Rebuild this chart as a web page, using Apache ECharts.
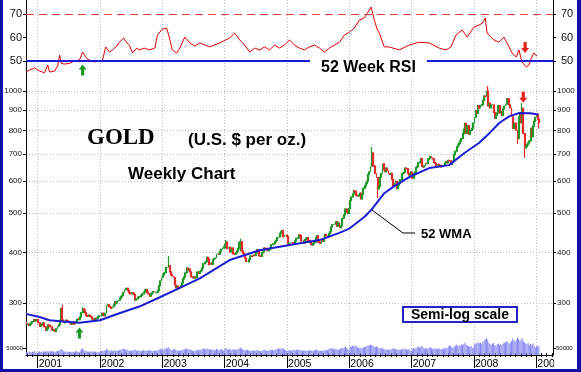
<!DOCTYPE html>
<html><head><meta charset="utf-8">
<script src="https://cdn.jsdelivr.net/npm/echarts@6/dist/echarts.min.js"></script>
<style>html,body{margin:0;padding:0;background:#fff}#c{width:581px;height:372px}</style>
</head><body><div id="c"></div>
<script>
// ---------- DATA ----------
const firstWeek = '2000-10-27';
const openFirst = 270;
const close2000 = [265,266,264,266,268,270,273,271,272,273];
const close2001 = [268,263,266,265, 268,262,257,259, 265,264,262,257,258, 257,255,259,263, 265,272,291,273, 268,270,272,271,270, 267,266,269,267, 266,270,273,274,273, 277,284,290,288, 284,280,278,280, 278,277,274,273,275, 274,275,278,279];
const close2002 = [279,283,282,279, 283,296,297,294, 293,291,294,297,302, 300,303,305,308, 311,313,318,324,326, 326,322,318,316, 318,317,315,305, 307,310,311,311,313, 316,319,323,324, 319,316,312,316, 318,320,320,318,319, 322,331,340,347];
const close2003 = [352,356,357,367,368, 371,358,352,350, 347,332,327,330, 325,328,331,336, 344,348,356,366,362, 364,358,348,346, 348,346,347,358, 355,359,361,366,375, 378,380,389,385, 373,377,374,384,386, 387,397,397,396, 403,407,410,413];
const close2004 = [418,424,409,412,401, 405,410,397,396, 399,403,409,423, 425,403,398,394,387, 380,379,384,392, 392,391,395,393, 399,406,402,392,391, 399,401,410,409, 405,404,406,410, 418,420,420,425,428, 435,437,446,450, 453,437,441,441,438];
const close2005 = [420,422,423,423, 421,420,427,433, 435,442,440,427, 427,422,430,433,435, 428,423,419,417, 420,424,435,440, 425,424,421,428,426, 433,443,440,437, 445,450,462,468,470, 470,476,464,474, 460,465,485,486, 495,512,502,499,513];
const close2006 = [537,548,558,568, 565,553,551,555, 560,542,556,576,584, 592,600,623,632, 653,704,656,653, 627,612,574,582,613, 626,662,640,633, 646,637,625,623, 627,606,583,594,599, 575,586,592,605, 626,628,631,646, 644,627,621,624,632];
const close2007 = [610,626,631,648, 652,666,669,682, 653,650,654,664,663, 680,681,691,683, 681,667,664,656, 660,653,656,650,650, 657,665,670,666, 675,673,660,667,672, 698,711,729,737, 744,753,764,787, 807,833,788,823,783, 799,801,810,834];
const close2008 = [863,895,883,922, 908,923,927,949,973, 970,1001,920,934, 910,925,925,886, 857,872,883,921,884, 890,871,904,918, 929,959,957,925, 910,864,809,829,834, 802,764,865,884, 836,907,786,725,730, 738,745,754,810, 773,820,843,862];
const close2009 = [878,853,837];

// notable weekly extremes (wicks)
const extWeek = ['2001-05-25','2001-09-21','2003-02-07','2004-01-09','2004-04-02','2006-05-12','2006-06-16','2008-03-21','2008-09-12','2008-10-10','2008-10-24','2009-01-16'];
const extLow  = [270,284,368,409,402,656,545,920,742,836,685,808];
const extHigh = [297,293,392,430,432,728,575,1030,802,935,787,853];

const vol2000 = [24,20,27,22,18,25,21,28,17,15];
const vol2001 = [22,26,21,24, 25,28,22,27, 30,23,26,29,24, 26,21,25,28, 30,34,45,38, 27,24,26,22,25, 21,24,20,23, 22,26,28,24,21, 30,42,48,36, 31,27,25,24, 26,23,22,27,24, 25,21,20,18];
const vol2002 = [28,31,26,33, 30,44,38,32, 29,34,27,31,36, 30,28,33,35, 38,41,47,43,36, 39,33,30,28, 34,29,40,37, 31,28,33,30,27, 35,32,29,31, 33,30,36,32, 30,27,33,29,31, 34,40,45,38];
const vol2003 = [42,39,47,52,45, 55,43,38,36, 40,46,35,33, 31,34,29,37, 38,41,44,48,39, 42,36,33,30, 31,28,34,37, 33,35,38,42,44, 46,40,48,39, 43,37,35,41,38, 36,44,39,33, 40,42,37,30];
const vol2004 = [45,50,41,38,44, 36,39,42,35, 37,40,43,47, 49,52,40,38,36, 34,37,33,31, 29,32,30,28, 33,36,31,29,27, 30,34,37,32, 29,31,35,33, 38,36,34,40,37, 42,45,48,44, 46,50,38,33,28];
const vol2005 = [33,36,30,31, 34,38,33,36, 40,37,35,32, 29,34,31,33,30, 28,32,35,31, 29,34,38,40, 33,30,28,31,29, 35,37,33,36, 41,44,50,47,43, 39,45,41,38, 40,46,52,48, 55,58,49,44,38];
const vol2006 = [60,58,64,70, 62,66,55,50, 48,52,46,54,57, 60,63,70,68, 75,72,66,60, 58,63,55,48,50, 52,46,44,40, 38,42,36,35, 40,45,48,42,39, 44,37,35,38, 42,46,41,45, 40,38,43,36,30];
const vol2007 = [45,52,44,50, 55,60,52,58, 66,54,48,45,50, 47,52,56,49, 46,42,48,45, 41,47,44,40,45, 43,49,53,47, 58,70,64,55,50, 60,68,74,64, 70,65,76,69, 80,88,75,68,62, 58,64,56,48];
const vol2008 = [75,86,80,92, 84,90,78,96,104, 112,120,108,88, 78,72,82,86, 70,66,76,82,72, 78,70,82,88, 90,98,92,80, 86,100,118,106,96, 108,125,116,100, 110,122,98,90,82, 76,86,70,78, 74,82,66,52];
const vol2009 = [60,68,62];

const wmaX = [2000.81,2001.03,2001.19,2001.40,2001.67,2002.00,2002.31,2002.63,2002.96,2003.28,2003.60,2004.08,2004.56,2005.04,2005.52,2005.84,2006.00,2006.24,2006.35,2006.56,2006.72,2006.96,2007.28,2007.60,2007.84,2008.08,2008.25,2008.41,2008.57,2008.73,2008.90,2009.03];
const wmaV = [282,277,272,270,268,272,283,294,310,327,345,383,405,417,429,447,458,489,509,560,583,614,646,657,703,745,789,836,868,884,882,876];

const rsiX = [2000.81,2000.87,2000.95,2001.03,2001.11,2001.16,2001.19,2001.27,2001.32,2001.35,2001.38,2001.43,2001.51,2001.59,2001.67,2001.72,2001.79,2001.83,2001.91,2001.99,2002.04,2002.09,2002.15,2002.20,2002.27,2002.31,2002.38,2002.43,2002.47,2002.52,2002.59,2002.63,2002.71,2002.79,2002.88,2002.92,2003.00,2003.07,2003.12,2003.16,2003.23,2003.28,2003.36,2003.44,2003.52,2003.60,2003.76,2003.92,2004.08,2004.16,2004.24,2004.32,2004.40,2004.48,2004.56,2004.64,2004.72,2004.80,2004.88,2004.96,2005.04,2005.12,2005.20,2005.28,2005.36,2005.44,2005.52,2005.60,2005.68,2005.76,2005.84,2005.92,2006.00,2006.08,2006.16,2006.24,2006.32,2006.35,2006.40,2006.45,2006.48,2006.56,2006.64,2006.80,2006.96,2007.12,2007.28,2007.44,2007.55,2007.63,2007.71,2007.81,2007.89,2008.00,2008.08,2008.13,2008.18,2008.21,2008.32,2008.40,2008.48,2008.53,2008.61,2008.68,2008.72,2008.77,2008.84,2008.88,2008.92,2008.96,2009.01];
const rsiV = [45.3,46.2,47,45.7,45,48.3,45.3,45.7,47.9,52.5,49,48.7,49,50,50.4,53.8,51,50.4,49.6,50,50.4,56,53.8,54.7,56.4,58,59.8,57.7,56.8,53.4,55.5,54.7,55.5,54.7,55.5,61,63.6,64,59,54.7,53.4,55.5,60.2,57.7,56.4,57.7,56,57.7,59.8,61.9,59,56.8,53.8,55.5,54.7,56,54.7,56.8,55.5,56.8,59,56.8,55.5,54.7,56,56.8,55.5,53.8,55.5,56.8,58,61,62.3,64,67.4,68.3,71.7,73,67.4,63.2,61.9,56,56,54.7,56.8,58,57.7,55.5,54.7,56,61,63.2,60.2,64.5,65.3,66,68.3,61.9,58.9,58,60.2,57.7,53.4,51.7,54.7,49.6,47.4,48.3,51.3,53.4,52.1];

const yearTicks = [2001,2002,2003,2004,2005,2006,2007,2008,2009];
const priceTicks = [300,400,500,600,700,800,900,1000];
const rsiTicks = [50,60,70];
const volTicks = [50];

// ---------- BUILD ----------
const closes = [].concat(close2000,close2001,close2002,close2003,close2004,close2005,close2006,close2007,close2008,close2009);
const vols = [].concat(vol2000,vol2001,vol2002,vol2003,vol2004,vol2005,vol2006,vol2007,vol2008,vol2009);
const t0 = Date.parse(firstWeek + 'T00:00:00Z');
function decYear(t){const d=new Date(t);const y=d.getUTCFullYear();const s=Date.UTC(y,0,1),e=Date.UTC(y+1,0,1);return y+(t-s)/(e-s);}
const weekT = closes.map((_,i)=>t0+i*7*864e5);
const weekX = weekT.map(decYear);
const extIdx = extWeek.map(s=>Math.round((Date.parse(s+'T00:00:00Z')-t0)/(7*864e5)));
const L = Math.log10;
const candles = closes.map((c,i)=>{
  const o=i?closes[i-1]:openFirst;
  let lo=Math.min(o,c), hi=Math.max(o,c);
  const k=extIdx.indexOf(i);
  if(k>=0){lo=Math.min(lo,extLow[k]);hi=Math.max(hi,extHigh[k]);}
  return [weekX[i],L(o),L(c),L(lo),L(hi)];
});
const volData = vols.map((v,i)=>[weekX[i],v]);
const wmaData = wmaX.map((x,i)=>[x,L(wmaV[i])]);
const rsiData = rsiX.map((x,i)=>[x,rsiV[i]]);
const monthTicks=[];for(let y=2000;y<=2009;y++)for(let m=0;m<12;m++)monthTicks.push(y+m/12);

const XMIN=2000.812, XMAX=2009.267;
const FONT='"Liberation Sans", Arial, sans-serif';
const dotted={show:true,lineStyle:{color:'#bdbdbd',width:1,type:[1,2]}};
const upArrow='path://M5,0 L10,5 L7,5 L7,11 L3,11 L3,5 L0,5 Z';
const downArrow='path://M3,0 L7,0 L7,6 L10,6 L5,11 L0,6 L3,6 Z';

const chart = echarts.init(document.getElementById('c'),null,{renderer:'canvas'});
const G=()=>({left:26,right:28,outerBoundsMode:'none',containLabel:false});
chart.setOption({
  animation:false,
  backgroundColor:'#ffffff',
  grid:[
    Object.assign(G(),{top:0,height:78}),
    Object.assign(G(),{top:78,bottom:17}),
    Object.assign(G(),{bottom:17,height:30})
  ],
  xAxis:[
    {gridIndex:0,type:'value',min:XMIN,max:XMAX,axisLine:{show:false},axisTick:{show:false,customValues:yearTicks},axisLabel:{show:false},splitLine:dotted},
    {gridIndex:1,type:'value',position:'bottom',min:XMIN,max:XMAX,axisLine:{show:true,lineStyle:{color:'#000',width:1}},
      axisTick:{show:true,customValues:yearTicks,length:13,lineStyle:{color:'#000'}},
      axisLabel:{show:true,customValues:yearTicks,formatter:v=>String(Math.round(v)),align:'left',margin:4,color:'#000',fontSize:10.5,fontFamily:FONT,padding:[0,0,0,1]},
      splitLine:dotted},
    {gridIndex:1,type:'value',position:'bottom',min:XMIN,max:XMAX,axisLine:{show:false},axisTick:{show:true,customValues:monthTicks,length:2,lineStyle:{color:'#000'}},axisLabel:{show:false},splitLine:{show:false}},
    {gridIndex:1,type:'value',position:'bottom',min:XMIN,max:XMAX,axisLine:{show:false},axisTick:{show:true,inside:true,customValues:monthTicks,length:2,lineStyle:{color:'#000'}},axisLabel:{show:false},splitLine:{show:false}},
    {gridIndex:2,type:'value',min:XMIN,max:XMAX,show:false}
  ],
  yAxis:[
    {gridIndex:0,type:'value',position:'left',min:42.77,max:75.96,axisLine:{show:true,lineStyle:{color:'#000'}},axisTick:{show:true,customValues:rsiTicks,length:3,lineStyle:{color:'#000'}},axisLabel:{customValues:rsiTicks,fontSize:11,color:'#111',fontFamily:FONT,margin:4},splitLine:{show:false}},
    {gridIndex:0,type:'value',position:'right',min:42.77,max:75.96,axisLine:{show:true,lineStyle:{color:'#000'}},axisTick:{show:true,customValues:rsiTicks,length:3,lineStyle:{color:'#000'}},axisLabel:{customValues:rsiTicks,fontSize:11,color:'#111',fontFamily:FONT,margin:8},splitLine:{show:false}},
    {gridIndex:1,type:'value',position:'left',min:2.3487,max:3.0327,axisLine:{show:true,lineStyle:{color:'#000'}},axisTick:{show:true,customValues:priceTicks.map(L),length:3,lineStyle:{color:'#000'}},axisLabel:{customValues:priceTicks.map(L),formatter:v=>String(Math.round(Math.pow(10,v))),fontSize:8,color:'#111',fontFamily:FONT,margin:4},splitLine:dotted},
    {gridIndex:1,type:'value',position:'right',min:2.3487,max:3.0327,axisLine:{show:true,lineStyle:{color:'#000'}},axisTick:{show:true,customValues:priceTicks.map(L),length:3,lineStyle:{color:'#000'}},axisLabel:{customValues:priceTicks.map(L),formatter:v=>String(Math.round(Math.pow(10,v))),fontSize:8,color:'#111',fontFamily:FONT,margin:4},splitLine:{show:false}},
    {gridIndex:2,type:'value',position:'left',min:0,max:214,axisLine:{show:false},axisTick:{show:true,customValues:volTicks,length:3,lineStyle:{color:'#000'}},axisLabel:{customValues:volTicks,formatter:v=>String(v*1000),fontSize:6,color:'#111',fontFamily:FONT,margin:3},splitLine:{show:false}},
    {gridIndex:2,type:'value',position:'right',min:0,max:214,axisLine:{show:false},axisTick:{show:true,customValues:volTicks,length:3,lineStyle:{color:'#000'}},axisLabel:{customValues:volTicks,formatter:v=>String(v*1000),fontSize:6,color:'#111',fontFamily:FONT,margin:3},splitLine:{show:false}}
  ],
  series:[
    {type:'line',xAxisIndex:0,yAxisIndex:0,data:rsiData,symbol:'none',lineStyle:{color:'#e00000',width:1},z:3,
      markLine:{silent:true,symbol:'none',label:{show:false},data:[
        {yAxis:70,lineStyle:{color:'#e04040',width:1,type:[8,5]}},
        {yAxis:50,lineStyle:{color:'#1c1cd8',width:2,type:'solid'}}]},
      markPoint:{silent:true,label:{show:false},data:[
        {coord:[2001.72,46.2],symbol:upArrow,symbolSize:[8,11],itemStyle:{color:'#1a9a2a'}},
        {coord:[2008.82,55.7],symbol:downArrow,symbolSize:[8,11],itemStyle:{color:'#e82020'}}]}},
    {type:'bar',xAxisIndex:4,yAxisIndex:4,data:volData,barWidth:1,itemStyle:{color:'#8585f0'},z:1},
    {type:'candlestick',xAxisIndex:1,yAxisIndex:2,data:candles,barWidth:1.4,
      itemStyle:{color:'#1f9a2a',color0:'#e52b2b',borderColor:'#1f9a2a',borderColor0:'#e52b2b',borderWidth:1.2},z:2},
    {type:'line',xAxisIndex:1,yAxisIndex:2,data:wmaData,symbol:'none',lineStyle:{color:'#1c1cd0',width:2},z:4,
      markPoint:{silent:true,label:{show:false},data:[
        {coord:[2001.67,L(253)],symbol:upArrow,symbolSize:[8,11],itemStyle:{color:'#1a9a2a'}},
        {coord:[2008.79,L(967)],symbol:downArrow,symbolSize:[8,11],itemStyle:{color:'#e82020'}}]}}
  ],
  graphic:[
    {type:'text',x:87,y:138,z:100,style:{text:'GOLD',font:'bold 23px "Liberation Serif", "Times New Roman", serif',fill:'#000',textVerticalAlign:'middle'}},
    {type:'text',x:188,y:140,z:100,style:{text:'(U.S. $ per oz.)',font:'bold 17px '+FONT,fill:'#000',textVerticalAlign:'middle'}},
    {type:'text',x:128,y:174,z:100,style:{text:'Weekly Chart',font:'bold 17px '+FONT,fill:'#000',textVerticalAlign:'middle'}},
    {type:'text',x:310,y:68,z:100,style:{text:'52 Week RSI',font:'bold 16px '+FONT,fill:'#000',textVerticalAlign:'middle',backgroundColor:'#fff',padding:[1,11,1,11]}},
    {type:'polyline',z:100,shape:{points:[[372,210],[403,233],[415,233]]},style:{stroke:'#000',lineWidth:1,fill:null}},
    {type:'text',x:421,y:234,z:100,style:{text:'52 WMA',font:'bold 13px '+FONT,fill:'#000',textVerticalAlign:'middle'}},
    {type:'rect',z:100,shape:{x:403,y:307,width:114,height:15},style:{fill:'#fff',stroke:'#2323c8',lineWidth:2}},
    {type:'text',x:460,y:315,z:101,style:{text:'Semi-log scale',font:'bold 14px '+FONT,fill:'#000',textAlign:'center',textVerticalAlign:'middle'}},
    {type:'rect',z:100,shape:{x:554,y:356,width:23,height:13},style:{fill:'#fff'}},
    {type:'rect',z:110,shape:{x:0,y:0,width:3,height:372},style:{fill:'#1010a8'}},
    {type:'rect',z:110,shape:{x:577,y:0,width:4,height:372},style:{fill:'#1010a8'}},
    {type:'rect',z:110,shape:{x:0,y:369,width:581,height:3},style:{fill:'#1010a8'}}
  ]
});
</script></body></html>
